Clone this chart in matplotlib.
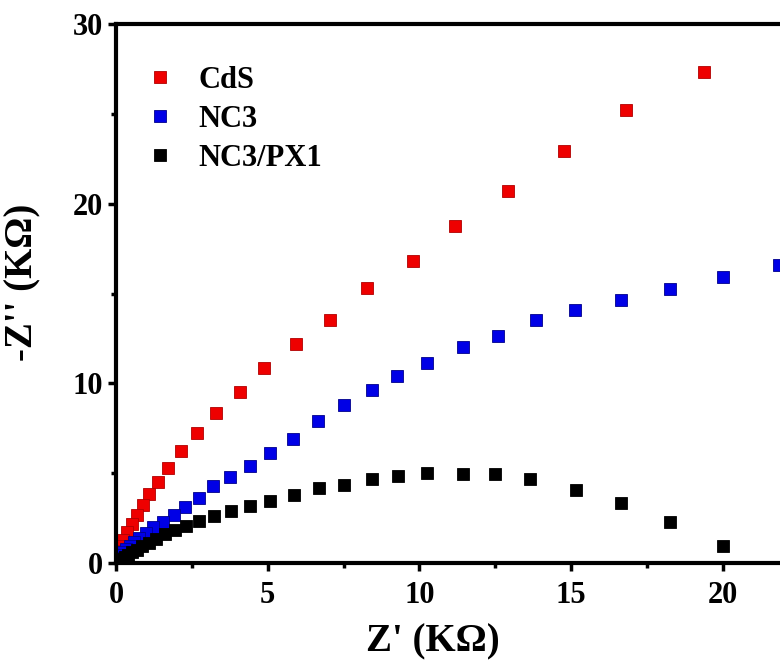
import matplotlib
matplotlib.use("Agg")
import matplotlib.pyplot as plt
from matplotlib.ticker import MultipleLocator

plt.rcParams['font.family'] = ['Liberation Serif', 'DejaVu Serif']
plt.rcParams['font.weight'] = 'bold'

# Nyquist data, Z' and -Z'' in kOhm
cds_x = [19.38, 16.79, 14.77, 12.92, 11.18, 9.78, 8.26, 7.05, 5.93, 4.88, 4.07, 3.30, 2.66,
         2.14, 1.73, 1.37, 1.10, 0.88, 0.68, 0.52, 0.36, 0.23, 0.12, 0.05]
cds_y = [27.35, 25.2, 22.94, 20.72, 18.76, 16.8, 15.3, 13.5, 12.17, 10.83, 9.52, 8.37, 7.26,
         6.22, 5.3, 4.52, 3.83, 3.22, 2.67, 2.17, 1.70, 1.28, 0.95, 0.65]

nc3_x = [21.85, 19.99, 18.27, 16.63, 15.14, 13.83, 12.58, 11.42, 10.24, 9.27, 8.45, 7.51, 6.65,
         5.82, 5.06, 4.40, 3.75, 3.21, 2.72, 2.29, 1.91, 1.56, 1.23, 0.98, 0.77, 0.60, 0.46,
         0.34, 0.24, 0.16, 0.10, 0.05, 0.02]
nc3_y = [16.6, 15.94, 15.24, 14.65, 14.1, 13.5, 12.63, 12.05, 11.13, 10.39, 9.61, 8.78, 7.9,
         6.93, 6.13, 5.41, 4.78, 4.26, 3.63, 3.11, 2.67, 2.31, 1.98, 1.68, 1.42, 1.18, 0.97,
         0.78, 0.60, 0.44, 0.30, 0.18, 0.08]

px1_x = [19.99, 18.27, 16.63, 15.15, 13.64, 12.49, 11.42, 10.25, 9.30, 8.45, 7.51, 6.68, 5.85,
         5.09, 4.42, 3.80, 3.23, 2.74, 2.31, 1.95, 1.62, 1.33, 1.08, 0.87, 0.69, 0.54, 0.41,
         0.30, 0.21, 0.13, 0.07, 0.02]
px1_y = [0.94, 2.29, 3.35, 4.09, 4.65, 4.96, 4.94, 5.02, 4.83, 4.70, 4.37, 4.15, 3.78,
         3.46, 3.17, 2.91, 2.63, 2.35, 2.07, 1.85, 1.60, 1.36, 1.13, 0.93, 0.75, 0.60, 0.47,
         0.35, 0.25, 0.16, 0.09, 0.03]

labels = ['CdS', 'NC3', 'NC3/PX1']

fig = plt.figure(figsize=(7.8, 6.62), dpi=100)
ax = fig.add_axes([0.1487, 0.1495, 0.8513, 0.8142])

ax.plot(cds_x, cds_y, 's', ms=8, color='#ee0000', mec='#b00000', mew=0.6, label=labels[0])
ax.plot(nc3_x, nc3_y, 's', ms=8, color='#0000e6', mec='#00008a', mew=0.6, label=labels[1])
ax.plot(px1_x, px1_y, 's', ms=8, color='black', mec='black', mew=0.6, label=labels[2])

ax.set_xlim(0, 21.88)
ax.set_ylim(0, 30)
ax.xaxis.set_major_locator(MultipleLocator(5))
ax.xaxis.set_minor_locator(MultipleLocator(2.5))
ax.yaxis.set_major_locator(MultipleLocator(10))
ax.yaxis.set_minor_locator(MultipleLocator(5))

for s in ['left', 'bottom', 'top']:
    ax.spines[s].set_linewidth(3)
ax.spines['right'].set_visible(False)
ax.tick_params(which='major', direction='out', length=6, width=2.5, labelsize=22)
ax.tick_params(axis='x', which='major', pad=7)
ax.tick_params(which='minor', direction='out', length=3.5, width=2.5)
ax.tick_params(top=False, right=False, which='both')

ax.set_xlabel("Z' (KΩ)", fontsize=28, fontweight='bold')
ax.set_ylabel("-Z'' (KΩ)", fontsize=28, fontweight='bold')
ax.xaxis.set_label_coords(0.477, -0.112)
ax.yaxis.set_label_coords(-0.112, 0.52)

ax.legend(loc='upper left', bbox_to_anchor=(0.025, 0.945), frameon=False, fontsize=22,
          handlelength=1.0, handletextpad=0.75, labelspacing=0.33, borderaxespad=0)

plt.savefig('out.png', dpi=100)
